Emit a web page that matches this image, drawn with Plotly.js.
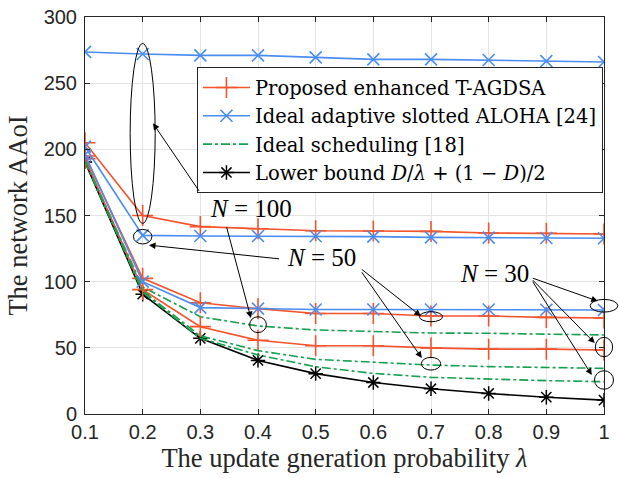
<!DOCTYPE html>
<html>
<head>
<meta charset="utf-8">
<script src="https://cdn.plot.ly/plotly-3.0.1.min.js"></script>
<style>html,body{margin:0;padding:0;background:#fff;}#chart{width:619px;height:478px;}</style>
</head>
<body>
<div id="chart"></div>
<script>
const lambda = [0.1, 0.2, 0.3, 0.4, 0.5, 0.6, 0.7, 0.8, 0.9, 1.0];

const proposedN100 = [205, 150, 141.6, 140, 138.5, 138.3, 138, 136.8, 136.6, 136];
const proposedN50  = [195, 102.5, 84, 79.6, 76, 76, 74, 74, 73, 72.6];
const proposedN30  = [193, 94, 66, 55.7, 51.6, 51.6, 50, 49, 49, 48.4];

const alohaN100 = [273.6, 272, 271, 271, 269.5, 268, 268, 267.5, 266.7, 266];
const alohaN50  = [202, 135, 134.5, 134.5, 134.3, 134, 133.5, 133.3, 133, 132.8];
const alohaN30  = [196, 100, 80.4, 79.6, 79, 79, 79, 79, 78.8, 78.6];

const schedN100 = [191.5, 96, 73.5, 66.5, 63.5, 62.2, 61.2, 61, 60.2, 59.7];
const schedN50  = [191, 93, 59, 47.9, 41.3, 39, 37, 35.8, 35, 34.5];
const schedN30  = [191, 92, 57.2, 44.6, 35.7, 30.7, 27.7, 26.2, 25.2, 24.4];

const lowerBound = [190.5, 90.5, 57.2, 40.5, 30.5, 23.8, 19.1, 15.5, 12.7, 10.5];

const legendNames = [
  'Proposed enhanced T-AGDSA',
  'Ideal adaptive slotted ALOHA [24]',
  'Ideal scheduling [18]',
  'Lower bound <i>D</i>/<i>λ</i> + (1 − <i>D</i>)/2'
];
const xTickVals = [0.1, 0.2, 0.3, 0.4, 0.5, 0.6, 0.7, 0.8, 0.9, 1];
const xTickText = ['0.1', '0.2', '0.3', '0.4', '0.5', '0.6', '0.7', '0.8', '0.9', '1'];
const yTickVals = [0, 50, 100, 150, 200, 250, 300];

const RED = '#f4532b', BLUE = '#4a8df2', GREEN = '#17a04f', BLACK = '#000000';
const SERIF = 'Liberation Serif, Times New Roman, serif';
const LEGSERIF = 'DejaVu Serif, serif';

function proposed(y, show) {
  return {x: lambda, y: y, type: 'scatter', mode: 'lines+markers', name: legendNames[0], showlegend: show,
    line: {color: RED, width: 1.6},
    marker: {symbol: 'cross-thin-open', size: 15, color: RED, line: {color: RED, width: 1.6}}};
}
function aloha(y, show) {
  return {x: lambda, y: y, type: 'scatter', mode: 'lines+markers', name: legendNames[1], showlegend: show,
    line: {color: BLUE, width: 1.6},
    marker: {symbol: 'x-thin-open', size: 12, color: BLUE, line: {color: BLUE, width: 1.6}}};
}
function sched(y, show) {
  return {x: lambda, y: y, type: 'scatter', mode: 'lines', name: legendNames[2], showlegend: show,
    line: {color: GREEN, width: 1.6, dash: 'dashdot'}};
}

const traces = [
  proposed(proposedN100, true), aloha(alohaN100, true), sched(schedN100, true),
  {x: lambda, y: lowerBound, type: 'scatter', mode: 'lines+markers', name: legendNames[3], showlegend: true,
    line: {color: BLACK, width: 1.6},
    marker: {symbol: 'asterisk-open', size: 12, color: BLACK, line: {color: BLACK, width: 1.5}}},
  proposed(proposedN50, false), proposed(proposedN30, false),
  aloha(alohaN50, false), aloha(alohaN30, false),
  sched(schedN50, false), sched(schedN30, false)
];

// helpers mapping data -> paper (for shapes that must not be clipped)
const XR = [0.1, 1], YR = [0, 300];
const px = v => (v - XR[0]) / (XR[1] - XR[0]);
const py = v => (v - YR[0]) / (YR[1] - YR[0]);
function ell(cx, cy, dx, dy) {
  return {type: 'circle', xref: 'paper', yref: 'paper',
    x0: px(cx - dx), x1: px(cx + dx), y0: py(cy - dy), y1: py(cy + dy),
    line: {color: '#000', width: 1}, fillcolor: 'rgba(0,0,0,0)', layer: 'above'};
}
const shapes = [
  ell(0.2, 212, 0.0217, 68),     // N=100 big ellipse
  ell(0.2, 134, 0.016, 5.5),     // N=50 blue circle
  ell(0.4, 67.5, 0.0145, 6),     // N=100 green circle
  ell(0.7, 73.5, 0.02, 3.8),     // N=50 red ellipse
  ell(0.7, 38, 0.0168, 4.8),     // N=50 green circle
  ell(1.0, 81.8, 0.024, 4.8),    // N=30 blue ellipse
  ell(1.0, 50.6, 0.015, 7.3),    // N=30 red ellipse
  ell(1.0, 25.7, 0.0165, 7)      // N=30 green circle
];

function arrow(x, y, ax, ay) {
  return {x: x, y: y, xref: 'x', yref: 'y', ax: ax, ay: ay, text: ' ', showarrow: true,
    arrowhead: 2, arrowsize: 1.3, arrowwidth: 1, arrowcolor: '#000', standoff: 0, startstandoff: 0};
}
function label(x, y, t) {
  return {x: x, y: y, xref: 'x', yref: 'y', text: t, showarrow: false,
    font: {family: SERIF, size: 25, color: '#000'}, xanchor: 'center', yanchor: 'middle'};
}
const annotations = [
  label(0.3877, 155.6, '<i>N</i> = 100'),
  label(0.5108, 118.6, '<i>N</i> = 50'),
  label(0.8107, 106.5, '<i>N</i> = 30'),
  arrow(0.2179, 219.7, 49, 72),
  arrow(0.3877, 72.5, -27, -101),
  arrow(0.211, 127.6, 133, 14),
  arrow(0.6824, 74, -62, -49),
  arrow(0.6841, 42.3, -63, -90),
  arrow(0.9892, 85.3, -68, -24),
  arrow(0.984, 53.6, -65, -66),
  arrow(0.9789, 29.4, -62, -98)
];

const axisCommon = {
  showline: true, linecolor: '#262626', linewidth: 1, mirror: 'ticks',
  ticks: 'inside', ticklen: 5, tickcolor: '#262626', tickwidth: 1,
  showgrid: true, gridcolor: '#e4e4e4', gridwidth: 1, zeroline: false,
  tickfont: {family: 'Liberation Sans, Arial, sans-serif', size: 20, color: '#262626'}
};

const layout = {
  width: 619, height: 478,
  margin: {l: 85, r: 15, t: 17, b: 64},
  paper_bgcolor: '#fff', plot_bgcolor: '#fff',
  xaxis: Object.assign({}, axisCommon, {
    range: XR, tickvals: xTickVals, ticktext: xTickText, automargin: false,
    title: {text: 'The update gneration probability <i>λ</i>', font: {family: SERIF, size: 26.5, color: '#262626'}, standoff: 0}
  }),
  yaxis: Object.assign({}, axisCommon, {
    range: YR, tickvals: yTickVals, ticklabelstandoff: 3, automargin: false,
    title: {text: 'The network AAoI', font: {family: SERIF, size: 26.5, color: '#262626'}, standoff: 8}
  }),
  legend: {x: 0.2157, y: 0.8734, xanchor: 'left', yanchor: 'top',
    bgcolor: '#fff', bordercolor: '#262626', borderwidth: 1,
    font: {family: LEGSERIF, size: 19.5, color: '#000'}, tracegroupgap: 0, itemwidth: 47},
  shapes: shapes,
  annotations: annotations,
  showlegend: true
};

Plotly.newPlot('chart', traces, layout, {staticPlot: true, displayModeBar: false});
</script>
</body>
</html>
